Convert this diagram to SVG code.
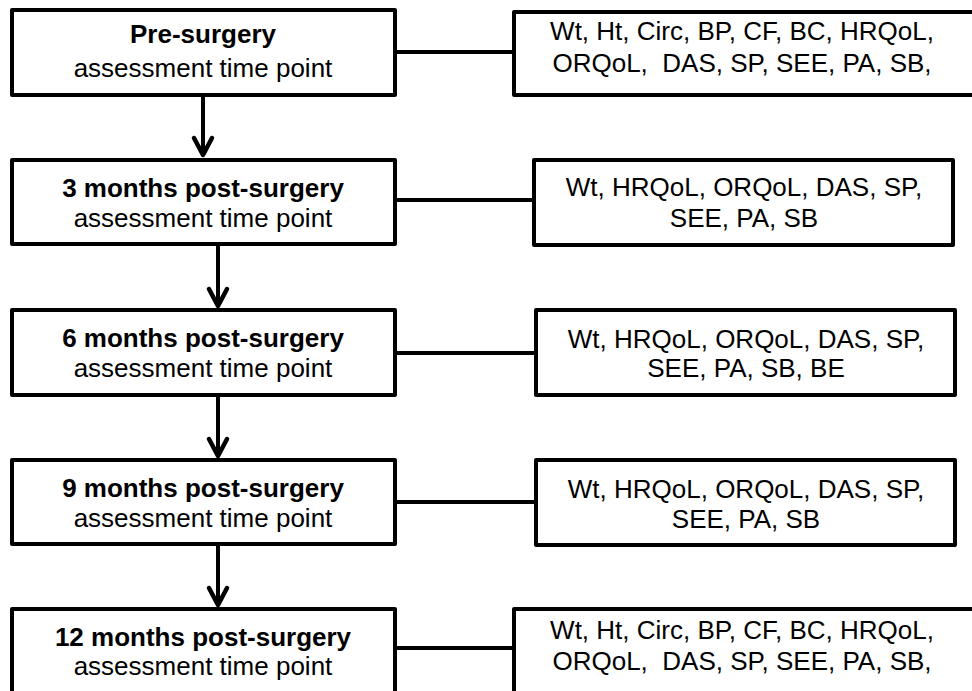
<svg xmlns="http://www.w3.org/2000/svg" width="972" height="691" viewBox="0 0 972 691">
<style>
.box{fill:#fff;stroke:#000;stroke-width:4;stroke-linejoin:round}
.t{font-family:"Liberation Sans",Arial,sans-serif;font-size:26px;fill:#000;text-anchor:middle}
.b{font-weight:bold}
.ln{stroke:#000;stroke-width:4;fill:none}
.ah{stroke:#000;stroke-width:4.5;fill:none;stroke-linecap:round;stroke-linejoin:round}
</style>
<rect width="972" height="691" fill="#fff"/>
<g id="connectors">
<line class="ln" x1="397" y1="52" x2="514" y2="52"/>
<line class="ln" x1="397" y1="200" x2="534" y2="200"/>
<line class="ln" x1="397" y1="353" x2="536" y2="353"/>
<line class="ln" x1="397" y1="502" x2="536" y2="502"/>
<line class="ln" x1="397" y1="648" x2="514" y2="648"/>
<line class="ln" x1="203" y1="97" x2="203" y2="155"/>
<polyline class="ah" points="194,138 203,155 212,138"/>
<line class="ln" x1="218" y1="246" x2="218" y2="306"/>
<polyline class="ah" points="209,289 218,306 227,289"/>
<line class="ln" x1="218" y1="397" x2="218" y2="456"/>
<polyline class="ah" points="209,439 218,456 227,439"/>
<line class="ln" x1="218" y1="546" x2="218" y2="605"/>
<polyline class="ah" points="209,588 218,605 227,588"/>
</g>
<g id="pre">
<rect class="box" x="12" y="10" width="383" height="85"/>
<text class="t b" x="203" y="43">Pre-surgery</text>
<text class="t" x="203" y="77">assessment time point</text>
</g>
<g id="m3">
<rect class="box" x="12" y="160" width="383" height="84"/>
<text class="t b" x="203" y="197">3 months post-surgery</text>
<text class="t" x="203" y="227">assessment time point</text>
</g>
<g id="m6">
<rect class="box" x="12" y="310" width="383" height="85"/>
<text class="t b" x="203" y="347">6 months post-surgery</text>
<text class="t" x="203" y="377">assessment time point</text>
</g>
<g id="m9">
<rect class="box" x="12" y="460" width="383" height="84"/>
<text class="t b" x="203" y="497">9 months post-surgery</text>
<text class="t" x="203" y="527">assessment time point</text>
</g>
<g id="m12">
<rect class="box" x="12" y="609" width="383" height="90"/>
<text class="t b" x="203" y="646">12 months post-surgery</text>
<text class="t" x="203" y="675">assessment time point</text>
</g>
<g id="r-pre">
<rect class="box" x="514" y="12" width="470" height="83"/>
<text class="t" x="742" y="40">Wt, Ht, Circ, BP, CF, BC, HRQoL,</text>
<text class="t" x="742" y="72">ORQoL,&#160; DAS, SP, SEE, PA, SB,</text>
</g>
<g id="r-m3">
<rect class="box" x="534" y="160" width="419" height="85"/>
<text class="t" x="744" y="196">Wt, HRQoL, ORQoL, DAS, SP,</text>
<text class="t" x="744" y="227">SEE, PA, SB</text>
</g>
<g id="r-m6">
<rect class="box" x="536" y="310" width="419" height="85"/>
<text class="t" x="746" y="348">Wt, HRQoL, ORQoL, DAS, SP,</text>
<text class="t" x="746" y="377">SEE, PA, SB, BE</text>
</g>
<g id="r-m9">
<rect class="box" x="536" y="460" width="419" height="85"/>
<text class="t" x="746" y="498">Wt, HRQoL, ORQoL, DAS, SP,</text>
<text class="t" x="746" y="528">SEE, PA, SB</text>
</g>
<g id="r-m12">
<rect class="box" x="514" y="609" width="470" height="90"/>
<text class="t" x="742" y="639">Wt, Ht, Circ, BP, CF, BC, HRQoL,</text>
<text class="t" x="742" y="670">ORQoL,&#160; DAS, SP, SEE, PA, SB,</text>
</g>
</svg>
